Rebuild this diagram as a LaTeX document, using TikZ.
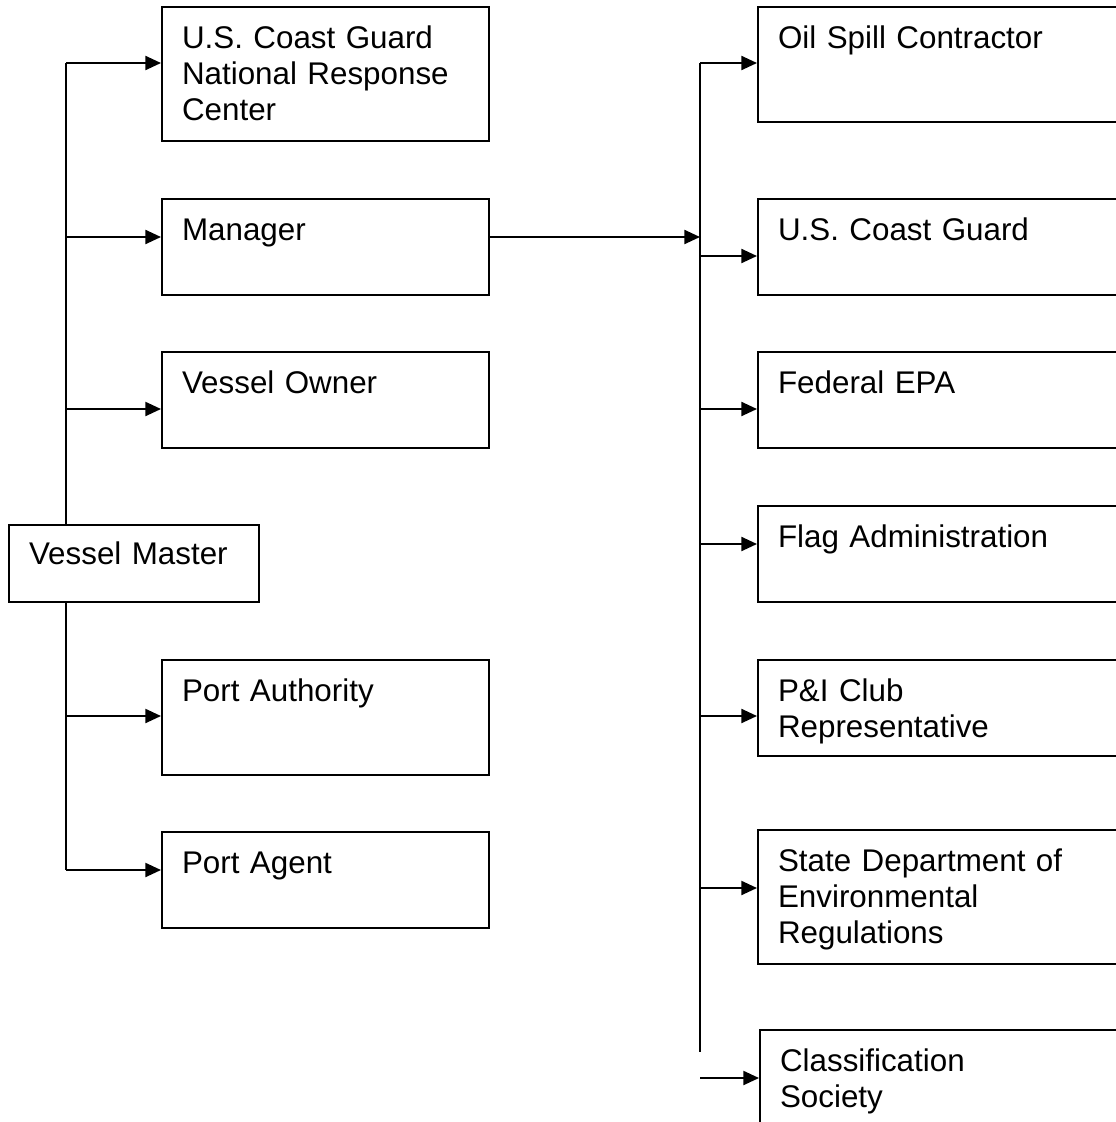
\documentclass[tikz,border=0pt]{standalone}
\usepackage{fontspec}
\setmainfont{Liberation Sans}
\usetikzlibrary{arrows.meta}

\begin{document}
\begin{tikzpicture}[
  font=\fontsize{22.3}{25.6}\selectfont,
  box/.style={draw,line width=1.5pt,anchor=north west,align=left,inner xsep=0.5cm,inner ysep=0pt,text height=1.025cm},
  leftbox/.style={box,text width=7.175cm},
  rightbox/.style={box,text width=8.5cm},
  boxS/.style={text depth=1.375cm},
  boxM/.style={text depth=1.85cm},
  boxL/.style={text depth=2.325cm},
  link/.style={line width=1.4pt},
  arr/.style={link,-{Triangle[length=3.9mm,width=3.5mm]}}
]
\useasboundingbox (0,0) rectangle (27.875,-28.05);
% left column
\node[box,boxS,text width=5.25cm,text height=0.975cm,text depth=0.95cm] (vm) at (0.2,-13.1) {Vessel Master};
\node[leftbox,boxL] (nrc) at (4.025,-0.15) {U.S. Coast Guard\\National Response\\Center};
\node[leftbox,boxS] (mgr) at (4.025,-4.95) {Manager};
\node[leftbox,boxS] (own) at (4.025,-8.775) {Vessel Owner};
\node[leftbox,boxM] (pau) at (4.025,-16.475) {Port Authority};
\node[leftbox,boxS] (pag) at (4.025,-20.775) {Port Agent};
% right column
\node[rightbox,boxM] (oil) at (18.925,-0.15) {Oil Spill Contractor};
\node[rightbox,boxS] (usc) at (18.925,-4.95) {U.S. Coast Guard};
\node[rightbox,boxS] (epa) at (18.925,-8.775) {Federal EPA};
\node[rightbox,boxS] (flag) at (18.925,-12.625) {Flag Administration};
\node[rightbox,boxS] (pni) at (18.925,-16.475) {P\&I Club\\Representative};
\node[rightbox,boxL] (sde) at (18.925,-20.725) {State Department of\\Environmental\\Regulations};
\node[rightbox,boxL] (cls) at (18.975,-25.725) {Classification\\Society};
% left trunk
\coordinate (l1) at (1.65,-1.575);
\coordinate (l2) at (1.65,-5.925);
\coordinate (l3) at (1.65,-10.225);
\coordinate (l4) at (1.65,-17.9);
\coordinate (l5) at (1.65,-21.75);
\draw[link] (l1) -- (l1 |- vm.north);
\draw[link] (vm.south -| l1) -- (l5);
\draw[arr] (l1) -- (l1 -| nrc.west);
\draw[arr] (l2) -- (l2 -| mgr.west);
\draw[arr] (l3) -- (l3 -| own.west);
\draw[arr] (l4) -- (l4 -| pau.west);
\draw[arr] (l5) -- (l5 -| pag.west);
% right trunk
\coordinate (rm) at (17.5,-5.925);
\coordinate (r1) at (17.5,-1.575);
\coordinate (r2) at (17.5,-6.4);
\coordinate (r3) at (17.5,-10.225);
\coordinate (r4) at (17.5,-13.6);
\coordinate (r5) at (17.5,-17.9);
\coordinate (r6) at (17.5,-22.2);
\coordinate (r7) at (17.5,-26.95);
\coordinate (rend) at (17.5,-26.3);
\draw[arr] (rm -| mgr.east) -- (rm);
\draw[link] (r1) -- (rend);
\draw[arr] (r1) -- (r1 -| oil.west);
\draw[arr] (r2) -- (r2 -| usc.west);
\draw[arr] (r3) -- (r3 -| epa.west);
\draw[arr] (r4) -- (r4 -| flag.west);
\draw[arr] (r5) -- (r5 -| pni.west);
\draw[arr] (r6) -- (r6 -| sde.west);
\draw[arr] (r7) -- (r7 -| cls.west);
\end{tikzpicture}
\end{document}
